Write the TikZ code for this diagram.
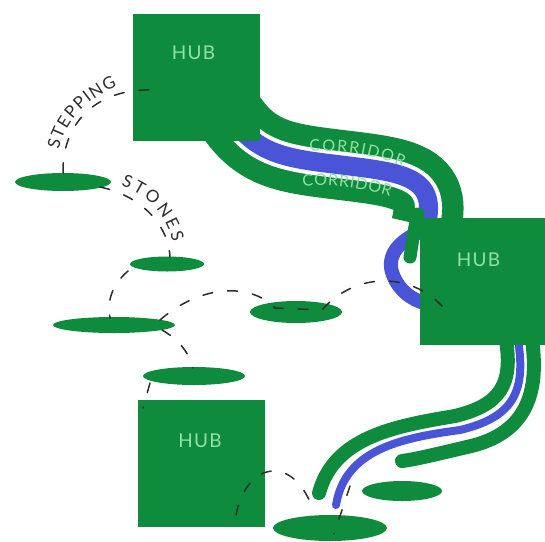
\documentclass[tikz,border=0pt]{standalone}
\usepackage{fontspec}
\setmainfont{Lato}
\usetikzlibrary{shapes.geometric,decorations.text,calc}
\definecolor{hubgreen}{RGB}{14,139,60}
\definecolor{corblue}{RGB}{74,84,214}
\definecolor{hublabel}{RGB}{145,226,160}
\definecolor{trailgray}{RGB}{45,45,45}
\begin{document}
\begin{tikzpicture}[x=1pt,y=-1pt,
  hub/.style={rectangle,fill=hubgreen,minimum width=127pt,minimum height=127pt,inner sep=0pt},
  hubname/.style={text=hublabel,font=\fontsize{19}{19}\selectfont\addfontfeatures{LetterSpace=6},inner sep=0pt},
  stone/.style={ellipse,fill=hubgreen,inner sep=0pt},
  trail/.style={draw=trailgray,line width=1.5pt,dash pattern=on 10pt off 15pt,line cap=round},
  greenband/.style={draw=hubgreen,line width=#1,line cap=round},
  blueband/.style={draw=corblue,line width=#1,line cap=round},
  corridor/.style={draw=hubgreen,line width=70pt,
    postaction={draw=white,line width=27pt},
    postaction={draw=corblue,line width=19pt}},
  walltext/.style={decorate,decoration={text along path,text align={fit to path},
    text color=hublabel,text={|\fontsize{16}{16}\selectfont|#1}}},
  pathtext/.style={decorate,decoration={text along path,text align={fit to path},
    text color=trailgray,text={|\fontsize{17}{17}\selectfont|#1}}},
]
\useasboundingbox (0,0) rectangle (545,541);
\clip (0,0) rectangle (545,541);

% ---------- corridors (under the hubs) ----------
\draw[corridor] (228,112) .. controls (252,150) and (278,157) .. (325,163)
                .. controls (395,172) and (440,172) .. (426,226);
\draw[white,line width=17pt] (430,228) .. controls (400,238) and (385,255) .. (393,275)
                .. controls (400,292) and (412,300) .. (430,305);
\draw[corblue,line width=14pt] (430,228) .. controls (400,238) and (385,255) .. (393,275)
                .. controls (400,292) and (412,300) .. (430,305);
\draw[greenband=13pt] (418,214) .. controls (414,228) and (412,245) .. (410,257);

\draw[greenband=14pt] (506,340) .. controls (513,385) and (500,405) .. (455,416)
                .. controls (395,426) and (334,437) .. (319,493);
\draw[blueband=8pt] (518,340) .. controls (527,395) and (510,418) .. (460,430)
                .. controls (400,438) and (345,450) .. (336,505);
\draw[greenband=14pt] (532,340) .. controls (541,403) and (518,436) .. (467,447)
                .. controls (437,454) and (417,459) .. (402,461);

% ---------- hubs ----------
\node[hub] (h1) at (196.5,77) {};
\node[hub] (h2) at (483.5,281.5) {};
\node[hub] (h3) at (201,463.5) {};
\node[hubname] (t1) at ($(h1.north)+(-3,39)$) {HUB};
\node[hubname] (t2) at ($(h2.north)+(-5,42)$) {HUB};
\node[hubname] (t3) at ($(h3.north)+(-1,41)$) {HUB};

% ---------- stepping stones ----------
\node[stone,minimum width=96pt,minimum height=18pt] (s1) at (63,182) {};
\node[stone,minimum width=74pt,minimum height=15pt] (s2) at (167,264) {};
\node[stone,minimum width=122pt,minimum height=16pt] (s3) at (114,325) {};
\node[stone,minimum width=102pt,minimum height=18pt] (s4) at (194,376) {};
\node[stone,minimum width=92pt,minimum height=22pt] (s5) at (296,312) {};
\node[stone,minimum width=80pt,minimum height=20pt] (s6) at (402,491) {};
\node[stone,minimum width=114pt,minimum height=26pt] (s7) at (330,528) {};

% ---------- corridor labels ----------
\path[walltext=CORRIDOR] (310,152) .. controls (340,149) and (372,154) .. (403,167);
\path[walltext=CORRIDOR] (303,187) .. controls (330,184) and (360,187) .. (390,197);

% ---------- trails ----------
\coordinate (e1) at (153,90);
\coordinate (e2) at (442,306);
\coordinate (e3) at (236,515);
\draw[trail] (s1.north) .. controls (62,120) and (100,88) .. (e1);
\draw[trail] (100,187) .. controls (138,195) and (168,222) .. (170,257);
\draw[trail] (128,271) .. controls (112,285) and (107,300) .. (110,318);
\draw[trail] (160,320) .. controls (200,285) and (250,282) .. (275,308) -- (322,310)
             .. controls (355,272) and (410,272) .. (e2);
\draw[trail] (162,330) .. controls (180,340) and (190,355) .. (193,368);
\draw[trail] (150,383) -- (143,408);
\draw[trail] (e3) .. controls (246,462) and (294,452) .. (314,512);
\draw[trail] (350,486) -- (334,534);

% ---------- trail labels ----------
\path[pathtext=STEPPING] (59,150) .. controls (64,122) and (87,99) .. (117,86);
\path[pathtext=STONES] (121,186) .. controls (145,194) and (164,210) .. (173,242);
\end{tikzpicture}
\end{document}
